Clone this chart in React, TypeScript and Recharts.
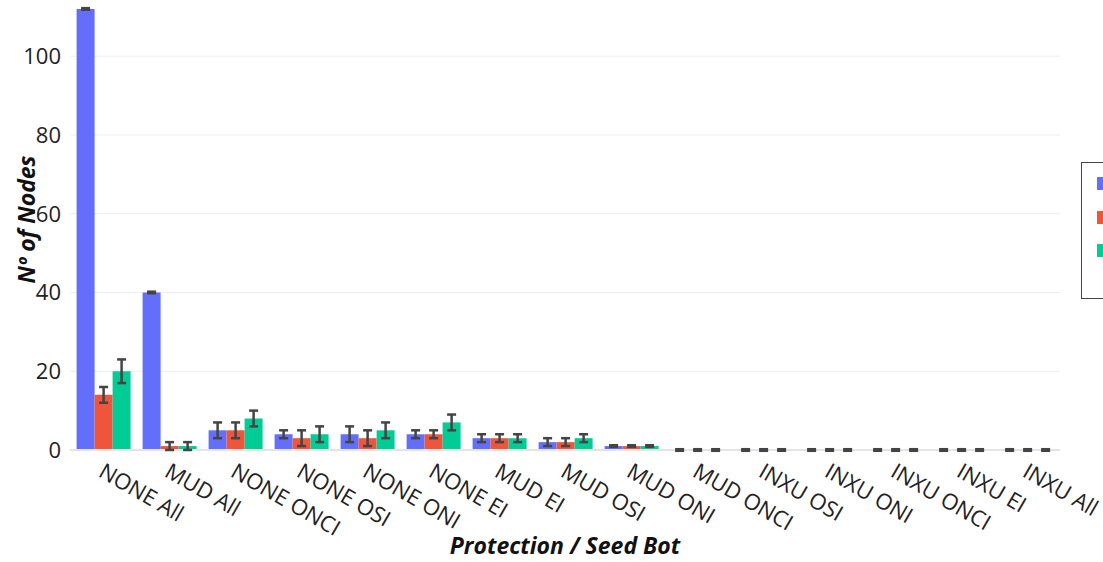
import { Bar, BarChart, CartesianGrid, ErrorBar, ReferenceLine, XAxis, YAxis } from 'recharts';

const categories = [
  'NONE All', 'MUD All', 'NONE ONCI', 'NONE OSI', 'NONE ONI', 'NONE EI', 'MUD EI', 'MUD OSI',
  'MUD ONI', 'MUD ONCI', 'INXU OSI', 'INXU ONI', 'INXU ONCI', 'INXU EI', 'INXU All',
];
const blueValues = [112, 40, 5, 4, 4, 4, 3, 2, 1, 0, 0, 0, 0, 0, 0];
const blueErrors = [0.2, 0.2, 2, 1, 2, 1, 1, 1, 0.2, 0.2, 0.2, 0.2, 0.2, 0.2, 0.2];
const redValues = [14, 1, 5, 3, 3, 4, 3, 2, 1, 0, 0, 0, 0, 0, 0];
const redErrors = [2, 1, 2, 2, 2, 1, 1, 1, 0.2, 0.2, 0.2, 0.2, 0.2, 0.2, 0.2];
const greenValues = [20, 1, 8, 4, 5, 7, 3, 3, 1, 0, 0, 0, 0, 0, 0];
const greenErrors = [3, 1, 2, 2, 2, 2, 1, 1, 0.2, 0.2, 0.2, 0.2, 0.2, 0.2, 0.2];
const yTicks = [0, 20, 40, 60, 80, 100];

const series = [
  { key: 'blue', color: '#636efa' },
  { key: 'red', color: '#ef553b' },
  { key: 'green', color: '#00cc96' },
];

const data = categories.map((name, i) => ({
  name,
  blue: blueValues[i],
  blueErr: blueErrors[i],
  red: redValues[i],
  redErr: redErrors[i],
  green: greenValues[i],
  greenErr: greenErrors[i],
}));

const FONT = '"Open Sans", sans-serif';

function RotatedTick({ x, y, payload }: any) {
  return (
    <g transform={`translate(${x - 2},${y + 11}) rotate(30)`}>
      <text x={0} y={0} dy="0.35em" textAnchor="start" fontSize={22} fill="#222" fontFamily={FONT}>
        {payload.value}
      </text>
    </g>
  );
}

// legend is cut off by the right edge in the original, only the swatches show
function LegendBox() {
  return (
    <div
      style={{
        position: 'absolute',
        left: 1081,
        top: 162,
        width: 120,
        height: 137,
        border: '1.5px solid #444',
        background: '#fff',
        boxSizing: 'border-box',
        paddingTop: 4,
        paddingLeft: 15,
      }}
    >
      {series.map((s) => (
        <div key={s.key} style={{ display: 'flex', alignItems: 'center', height: 33.5 }}>
          <span style={{ width: 20, height: 13, background: s.color, display: 'inline-block', flex: 'none' }} />
        </div>
      ))}
    </div>
  );
}

export default function App() {
  return (
    <div style={{ position: 'fixed', left: 0, top: 0, width: 1103, height: 562, overflow: 'hidden', background: '#fff' }}>
      <BarChart
        width={1103}
        height={562}
        data={data}
        margin={{ top: 5, right: 43, bottom: 0, left: 0 }}
        barCategoryGap="10%"
        barGap={0}
      >
        <CartesianGrid vertical={false} stroke="#eeeeee" horizontalValues={[20, 40, 60, 80, 100]} />
        <ReferenceLine y={0} stroke="#e4e4e4" strokeWidth={2} />
        <XAxis
          dataKey="name"
          interval={0}
          tickLine={false}
          axisLine={false}
          height={112}
          tick={<RotatedTick />}
          label={({ viewBox }: any) => (
            <text
              x={viewBox.x + viewBox.width / 2}
              y={554}
              textAnchor="middle"
              fontFamily={FONT}
              fontSize={23}
              fontWeight={700}
              fontStyle="italic"
              fill="#111"
            >
              Protection / Seed Bot
            </text>
          )}
        />
        <YAxis
          domain={[0, 113]}
          allowDataOverflow
          ticks={yTicks}
          width={70}
          tickLine={false}
          axisLine={false}
          tickMargin={3}
          tick={{ fontSize: 22, fill: '#222', fontFamily: FONT }}
          label={({ viewBox }: any) => (
            <text
              transform={`translate(26,${viewBox.y + viewBox.height / 2 - 8}) rotate(-90)`}
              textAnchor="middle"
              dominantBaseline="central"
              fontFamily={FONT}
              fontSize={23}
              fontWeight={700}
              fontStyle="italic"
              fill="#111"
            >
              Nº of Nodes
            </text>
          )}
        />
        {series.map((s) => (
          <Bar key={s.key} dataKey={s.key} fill={s.color} minPointSize={0.5} isAnimationActive={false}>
            <ErrorBar dataKey={`${s.key}Err`} width={4.5} stroke="#444" strokeWidth={2.5} />
          </Bar>
        ))}
      </BarChart>
      <LegendBox />
    </div>
  );
}
